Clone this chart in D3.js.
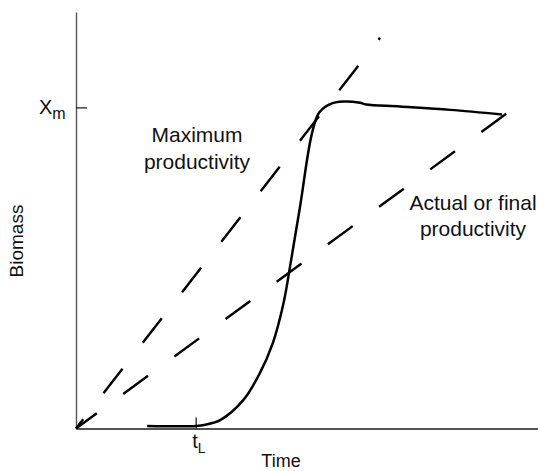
<!DOCTYPE html>
<html>
<head>
<meta charset="utf-8">
<script src="https://cdn.jsdelivr.net/npm/d3@7"></script>
<style>
html,body{margin:0;padding:0;background:#fff;}
text{font-family:"Liberation Sans", Arial, Helvetica, sans-serif;fill:#111;}
</style>
</head>
<body>
<script>
// ---- data (arbitrary units: time 0..100, biomass 0..100) ----
const growthTime    = [15.4, 26.0, 28.0, 31.2, 36.2, 39.8, 42.6, 44.9, 46.5, 48.5, 51.0, 52.6, 55.0, 57.9, 61.5, 62.8, 70.1, 81.0, 92.2];
const growthBiomass = [0.6, 0.6, 0.9, 2.0, 6.8, 13.3, 20.5, 30.0, 40.0, 53.3, 70.5, 75.8, 77.9, 78.5, 78.2, 77.8, 77.3, 76.5, 75.4];
const maxProdTime    = [0, 65.8];
const maxProdBiomass = [0, 93.8];
const actProdTime    = [0, 93.9];
const actProdBiomass = [0, 76.2];
const yTickValues = [77.1];     // X_m
const yTickMain = ["X"], yTickSub = ["m"];
const xTickValues = [25.9];     // t_L
const xTickMain = ["t"], xTickSub = ["L"];
const xTitle = "Time", yTitle = "Biomass";
const labelMax = ["Maximum", "productivity"];
const labelAct = ["Actual or final", "productivity"];

const W = 538, H = 471;
const svg = d3.select("body").append("svg").attr("width", W).attr("height", H);

const x = d3.scaleLinear().domain([0, 100]).range([76, 538]);
const y = d3.scaleLinear().domain([0, 100]).range([428.5, 12]);

// y axis
const yAxis = d3.axisLeft(y).tickValues(yTickValues).tickSizeInner(-11).tickSizeOuter(0).tickFormat("");
const gy = svg.append("g").attr("transform", `translate(${x(0)},0)`).call(yAxis);
gy.select(".domain").attr("stroke", "#555").attr("stroke-width", 1.4);
gy.selectAll(".tick line").attr("stroke", "#222").attr("stroke-width", 1.3);

// x axis
const xAxis = d3.axisBottom(x).tickValues(xTickValues).tickSizeInner(-11).tickSizeOuter(0).tickFormat("");
const gx = svg.append("g").attr("transform", `translate(0,${y(0)})`).call(xAxis);
gx.select(".domain").attr("stroke", "#1a1a1a").attr("stroke-width", 1.7);
gx.selectAll(".tick line").attr("stroke", "#222").attr("stroke-width", 1.3);

// tick labels with subscripts
yTickValues.forEach((v, i) => {
  const t = svg.append("text").attr("x", 39).attr("y", y(v) + 6.5).style("font-size", "20px");
  t.append("tspan").text(yTickMain[i]);
  t.append("tspan").attr("dy", 5).style("font-size", "16px").text(yTickSub[i]);
});
xTickValues.forEach((v, i) => {
  const t = svg.append("text").attr("x", x(v) - 3.5).attr("y", 448).style("font-size", "20px");
  t.append("tspan").text(xTickMain[i]);
  t.append("tspan").attr("dy", 5).style("font-size", "14px").text(xTickSub[i]);
});

// axis titles
svg.append("text").attr("x", 281).attr("y", 467).attr("text-anchor", "middle").style("font-size", "18px").text(xTitle);
svg.append("text").attr("transform", "translate(23,241) rotate(-90)").attr("text-anchor", "middle").style("font-size", "19px").text(yTitle);

// dashed productivity lines
const line = d3.line().x(d => x(d[0])).y(d => y(d[1]));
svg.append("path").datum(maxProdTime.map((t, i) => [t, maxProdBiomass[i]]))
  .attr("d", line).attr("fill", "none").attr("stroke", "#000").attr("stroke-width", 2.4)
  .attr("stroke-dasharray", "31,33").attr("stroke-dashoffset", 19.3);
svg.append("path").datum(actProdTime.map((t, i) => [t, actProdBiomass[i]]))
  .attr("d", line).attr("fill", "none").attr("stroke", "#000").attr("stroke-width", 2.4)
  .attr("stroke-dasharray", "30.7,32.7").attr("stroke-dashoffset", 4.9);

// growth curve
const curve = d3.line().x(d => x(d[0])).y(d => y(d[1])).curve(d3.curveCatmullRom.alpha(0.5));
svg.append("path").datum(growthTime.map((t, i) => [t, growthBiomass[i]]))
  .attr("d", curve).attr("fill", "none").attr("stroke", "#000").attr("stroke-width", 2.5);

// annotations
const annMax = svg.append("text").attr("text-anchor", "middle").style("font-size", "21px");
labelMax.forEach((s, i) => annMax.append("tspan").attr("x", 197).attr("y", 142 + i * 27).text(s));
const annAct = svg.append("text").attr("text-anchor", "middle").style("font-size", "21px");
labelAct.forEach((s, i) => annAct.append("tspan").attr("x", 473).attr("y", 210 + i * 26).text(s));
</script>
</body>
</html>
